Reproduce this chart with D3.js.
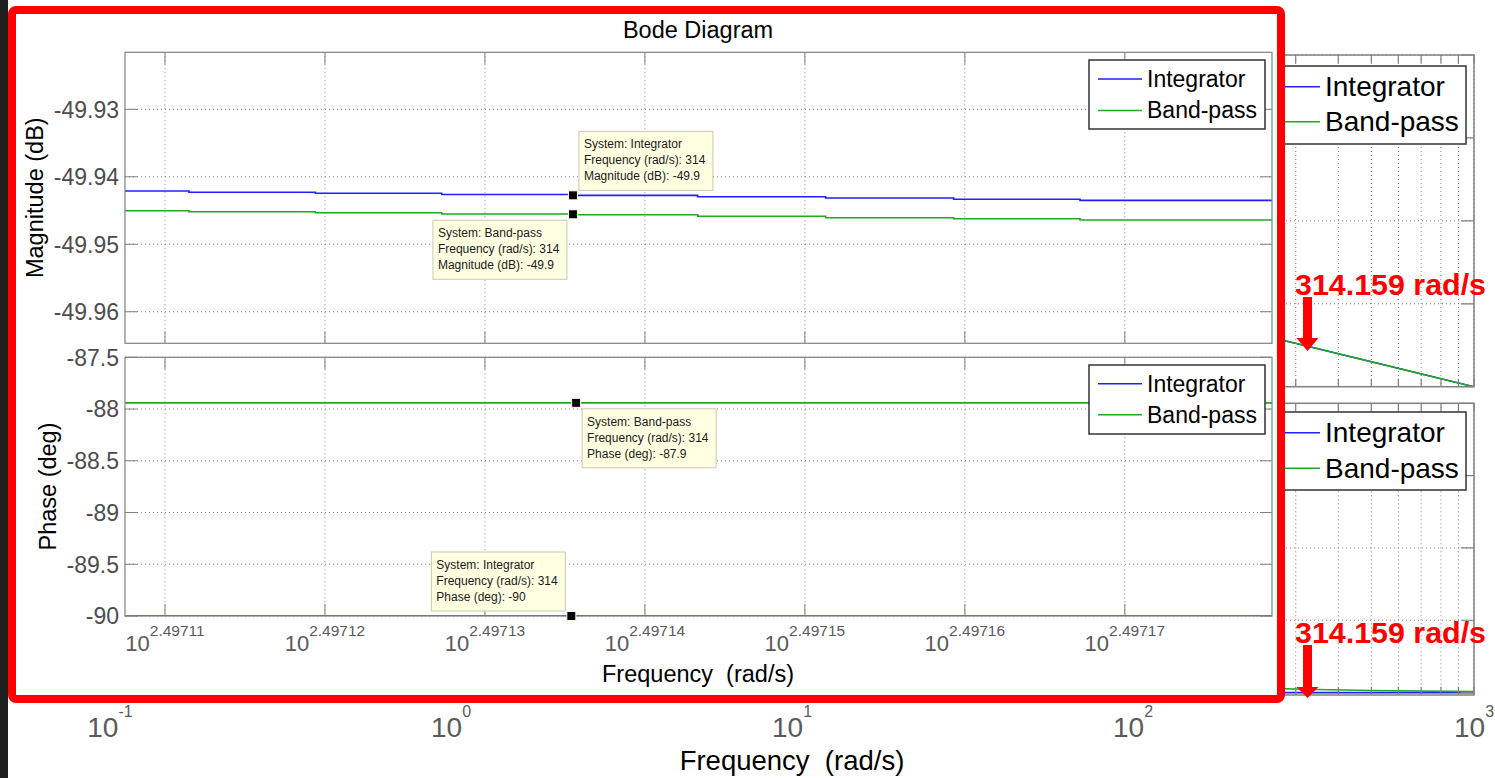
<!DOCTYPE html>
<html>
<head>
<meta charset="utf-8">
<script src="https://cdn.jsdelivr.net/npm/d3@7"></script>
<style>
  html, body { margin: 0; padding: 0; background: #fff; }
  svg { display: block; font-family: "Liberation Sans", Arial, sans-serif; }
</style>
</head>
<body>
<svg id="chart" width="1495" height="778"></svg>
<script>
// zoomed-in Bode plot, frequency given as log10 exponent (rad/s = 10^exp)
const freqDomainExp = [2.4971075, 2.4971792];
const freqTickExp = [2.49711, 2.49712, 2.49713, 2.49714, 2.49715, 2.49716, 2.49717];
const magDomain = [-49.96468, -49.92155];
const magTicks = [-49.93, -49.94, -49.95, -49.96];
const phaseDomain = [-90, -87.5];
const phaseTicks = [-87.5, -88, -88.5, -89, -89.5, -90];

const magFreqExp = [2.4971075, 2.4971115, 2.4971194, 2.4971273, 2.4971353, 2.4971433, 2.4971513, 2.4971593, 2.4971672, 2.4971792];
const integratorMag = [-49.94211, -49.94230, -49.94245, -49.94263, -49.94275, -49.94295, -49.94315, -49.94334, -49.94349, -49.94349];
const bandpassMag = [-49.94503, -49.94518, -49.94533, -49.94552, -49.94562, -49.94586, -49.94607, -49.94621, -49.94641, -49.94641];
const phaseFreqExp = [2.4971075, 2.4971792];
const integratorPhase = [-90, -90];
const bandpassPhase = [-87.94, -87.94];

const systems = ["Integrator", "Band-pass"];
const colors = ["#2020ff", "#20a820"];

// data tips: [panel, system, freq exp, value, text, side]
const tips = [
  ["mag", "Integrator", 2.4971355, -49.94275, "Magnitude (dB): -49.9", "ur"],
  ["mag", "Band-pass", 2.4971355, -49.94556, "Magnitude (dB): -49.9", "dl"],
  ["phase", "Band-pass", 2.4971357, -87.94, "Phase (deg): -87.9", "dr"],
  ["phase", "Integrator", 2.4971354, -90, "Phase (deg): -90", "ul"]
];

// full-range Bode plot underneath (rad/s)
const bgFreqTicks = [0.1, 1, 10, 100, 1000];
const bgMagTicks = [-60, -40, -20, 0, 20];
const bgPhaseTicks = [-90, -45, 0, 45, 90];
const bgFreq = [100, 200, 314.159, 500, 1000];
const bgIntegratorMag = [-40, -46.02, -49.94, -53.98, -60];
const bgBandpassMag = [-40.2, -46.07, -49.95, -53.99, -60.0];
const bgIntegratorPhase = [-90, -90, -90, -90, -90];
const bgBandpassPhase = [-83.6, -86.8, -87.9, -88.7, -89.4];
const markFreq = 314.159;

const svg = d3.select("#chart");
svg.append("rect").attr("width", 1495).attr("height", 778).attr("fill", "#fff");

// ---------- background figure ----------
const bgX = d3.scaleLog().domain([0.1, 1000]).range([110, 1474]);
const bgMagY = d3.scaleLinear().domain([-60, 20]).range([386.7, 55]);
const bgPhaseY = d3.scaleLinear().domain([-91.5, 90]).range([695, 403.3]);

function bgPanel(y, ticks, series, id) {
    const g = svg.append("g");
    const [xa, xb] = bgX.range();
    const [yb, ya] = y.range();
    g.append("clipPath").attr("id", id).append("rect")
        .attr("x", xa).attr("y", ya).attr("width", xb - xa).attr("height", yb - ya);
    g.selectAll(".vg").data(bgX.ticks()).enter().append("line")
        .attr("x1", d => bgX(d)).attr("x2", d => bgX(d)).attr("y1", ya).attr("y2", yb)
        .attr("stroke", "#808080").attr("stroke-dasharray", "1,3");
    g.selectAll(".hg").data(ticks).enter().append("line")
        .attr("x1", xa).attr("x2", xb).attr("y1", d => y(d)).attr("y2", d => y(d))
        .attr("stroke", "#808080").attr("stroke-dasharray", "1,3");
    series.forEach((s, i) => {
        const line = d3.line().x(d => bgX(d[0])).y(d => y(d[1]));
        g.append("path").datum(d3.zip(bgFreq, s))
            .attr("clip-path", "url(#" + id + ")")
            .attr("d", line).attr("fill", "none")
            .attr("stroke", colors[i]).attr("stroke-width", 1.6);
    });
    g.selectAll(".xt").data(bgX.ticks()).enter().append("path")
        .attr("d", d => `M${bgX(d)},${ya}v8M${bgX(d)},${yb}v-8`)
        .attr("stroke", "#808080").attr("stroke-width", 1.2);
    g.selectAll(".yt").data(ticks).enter().append("path")
        .attr("d", d => `M${xa},${y(d)}h13M${xb},${y(d)}h-13`)
        .attr("stroke", "#808080").attr("stroke-width", 1.2);
    g.append("rect").attr("x", xa).attr("y", ya).attr("width", xb - xa).attr("height", yb - ya)
        .attr("fill", "none").attr("stroke", "#808080").attr("stroke-width", 1.5);
    return g;
}

function legend(g, box, lineX, textX, rowY, size) {
    g.append("rect").attr("x", box[0]).attr("y", box[1]).attr("width", box[2] - box[0]).attr("height", box[3] - box[1])
        .attr("fill", "#fff").attr("stroke", "#333").attr("stroke-width", 1.5);
    systems.forEach((name, i) => {
        g.append("line").attr("x1", lineX[0]).attr("x2", lineX[1]).attr("y1", rowY[i]).attr("y2", rowY[i])
            .attr("stroke", colors[i]).attr("stroke-width", 1.5);
        g.append("text").attr("x", textX).attr("y", rowY[i] + size * 0.34)
            .attr("font-size", size).attr("fill", "#000").text(name);
    });
}

const bgMag = bgPanel(bgMagY, bgMagTicks, [bgIntegratorMag, bgBandpassMag], "clipBgMag");
legend(bgMag, [1262, 66, 1466, 144], [1272, 1320], 1325, [86.7, 121.7], 28);
const bgPhase = bgPanel(bgPhaseY, bgPhaseTicks, [bgIntegratorPhase, bgBandpassPhase], "clipBgPhase");
legend(bgPhase, [1262, 412, 1466, 490], [1272, 1320], 1325, [432.7, 468.3], 28);

svg.append("g").selectAll("text").data(bgFreqTicks).enter().append("text")
    .attr("x", d => bgX(d)).attr("y", 737).attr("text-anchor", "middle")
    .attr("font-size", 28).attr("fill", "#5a5a5a")
    .call(t => {
        t.append("tspan").text("10");
        t.append("tspan").attr("font-size", 16).attr("dy", -20).text(d => Math.round(Math.log10(d)));
    });
svg.append("text").attr("x", 792).attr("y", 770).attr("text-anchor", "middle")
    .attr("font-size", 27.5).attr("fill", "#000").attr("xml:space", "preserve").text("Frequency  (rad/s)");

// dark window edge on the left
svg.append("rect").attr("x", 0).attr("y", 0).attr("width", 8).attr("height", 778).attr("fill", "#1e1e1e");

// ---------- zoomed overlay ----------
svg.append("rect").attr("x", 12).attr("y", 10).attr("width", 1269).attr("height", 689).attr("rx", 4)
    .attr("fill", "#fff").attr("stroke", "#ff0000").attr("stroke-width", 8);

const fx = d3.scaleLog().domain(freqDomainExp.map(e => 10 ** e)).range([125, 1272]);
const magY = d3.scaleLinear().domain(magDomain).range([343.3, 52.3]);
const phaseY = d3.scaleLinear().domain(phaseDomain).range([616, 357.3]);
const tickVals = freqTickExp.map(e => 10 ** e);

function panel(y, ticks, fmt, freqExp, series, id) {
    const g = svg.append("g");
    const [xa, xb] = fx.range();
    const [yb, ya] = y.range();
    g.append("clipPath").attr("id", id).append("rect")
        .attr("x", xa).attr("y", ya).attr("width", xb - xa).attr("height", yb - ya);
    g.selectAll(".vg").data(tickVals).enter().append("line")
        .attr("x1", d => fx(d)).attr("x2", d => fx(d)).attr("y1", ya).attr("y2", yb)
        .attr("stroke", "#808080").attr("stroke-dasharray", "1,3");
    g.selectAll(".hg").data(ticks).enter().append("line")
        .attr("x1", xa).attr("x2", xb).attr("y1", d => y(d)).attr("y2", d => y(d))
        .attr("stroke", "#808080").attr("stroke-dasharray", "1,3");
    series.forEach((s, i) => {
        const line = d3.line().x(d => fx(10 ** d[0])).y(d => y(d[1])).curve(d3.curveStepAfter);
        g.append("path").datum(d3.zip(freqExp, s))
            .attr("clip-path", "url(#" + id + ")")
            .attr("d", line).attr("fill", "none")
            .attr("stroke", colors[i]).attr("stroke-width", 1.6);
    });
    g.selectAll(".xt").data(tickVals).enter().append("path")
        .attr("d", d => `M${fx(d)},${ya}v12M${fx(d)},${yb}v-12`)
        .attr("stroke", "#808080");
    g.selectAll(".yt").data(ticks).enter().append("path")
        .attr("d", d => `M${xa},${y(d)}h12M${xb},${y(d)}h-12`)
        .attr("stroke", "#808080");
    g.append("rect").attr("x", xa).attr("y", ya).attr("width", xb - xa).attr("height", yb - ya)
        .attr("fill", "none").attr("stroke", "#808080").attr("stroke-width", 1.2);
    g.selectAll(".yl").data(ticks).enter().append("text")
        .attr("x", xa - 6).attr("y", d => y(d)).attr("dy", "0.36em").attr("text-anchor", "end")
        .attr("font-size", 23).attr("fill", "#4d4d4d").text(fmt);
    return g;
}

const magPanel = panel(magY, magTicks, d => d.toFixed(2), magFreqExp, [integratorMag, bandpassMag], "clipMag");
const phasePanel = panel(phaseY, phaseTicks, d => String(d), phaseFreqExp, [integratorPhase, bandpassPhase], "clipPhase");

legend(magPanel, [1089, 60, 1265, 129], [1098, 1142], 1147, [79, 110.5], 23);
legend(phasePanel, [1089, 365, 1265, 434], [1098, 1142], 1147, [383.7, 414.7], 23);

svg.append("g").selectAll("text").data(freqTickExp).enter().append("text")
    .attr("x", d => fx(10 ** d)).attr("y", 650.5).attr("text-anchor", "middle")
    .attr("font-size", 22).attr("fill", "#5a5a5a")
    .call(t => {
        t.append("tspan").text("10");
        t.append("tspan").attr("font-size", 15.5).attr("dy", -15).text(d => d.toFixed(5));
    });

svg.append("text").attr("x", 698).attr("y", 38).attr("text-anchor", "middle")
    .attr("font-size", 23.5).attr("fill", "#000").text("Bode Diagram");
svg.append("text").attr("x", 698).attr("y", 682).attr("text-anchor", "middle")
    .attr("font-size", 23.5).attr("fill", "#000").attr("xml:space", "preserve").text("Frequency  (rad/s)");
svg.append("text").attr("transform", "translate(43,197.7) rotate(-90)").attr("text-anchor", "middle")
    .attr("font-size", 23.5).attr("fill", "#000").text("Magnitude (dB)");
svg.append("text").attr("transform", "translate(56,486.5) rotate(-90)").attr("text-anchor", "middle")
    .attr("font-size", 23.5).attr("fill", "#000").text("Phase (deg)");

// data tips
tips.forEach(([pn, sys, e, v, last, side]) => {
    const y = pn === "mag" ? magY : phaseY;
    const px = fx(10 ** e), py = y(v);
    const bw = 134, bh = 59;
    const bx = side[1] === "r" ? px + 6 : px - 6 - bw;
    const by = side[0] === "u" ? py - 5 - bh : py + 6;
    const g = svg.append("g");
    g.append("rect").attr("x", bx).attr("y", by).attr("width", bw).attr("height", bh)
        .attr("fill", "#ffffe1").attr("stroke", "#c8c8b8");
    ["System: " + sys, "Frequency (rad/s): 314", last].forEach((s, i) => {
        g.append("text").attr("x", bx + 5).attr("y", by + 17 + i * 16)
            .attr("font-size", 12).attr("fill", "#1a1a1a").text(s);
    });
    g.append("rect").attr("x", px - 4.5).attr("y", py - 4.5).attr("width", 9).attr("height", 9)
        .attr("fill", "#000").attr("stroke", "#ffffe1").attr("stroke-width", 1);
});

// red annotations on the full-range plot
const ax = bgX(markFreq) + 5;
[[295, 297, 338, 351], [643, 645, 687, 698]].forEach(([ty, s0, s1, tip]) => {
    svg.append("text").attr("x", bgX(markFreq) - 7.5).attr("y", ty)
        .attr("font-size", 29).attr("font-weight", "bold").attr("fill", "#ff0000")
        .attr("textLength", 191).attr("lengthAdjust", "spacingAndGlyphs").text("314.159 rad/s");
    svg.append("path")
        .attr("d", `M${ax - 4.5},${s0}H${ax + 4.5}V${s1}H${ax + 11}L${ax},${tip}L${ax - 11},${s1}H${ax - 4.5}Z`)
        .attr("fill", "#ff0000");
});
</script>
</body>
</html>
